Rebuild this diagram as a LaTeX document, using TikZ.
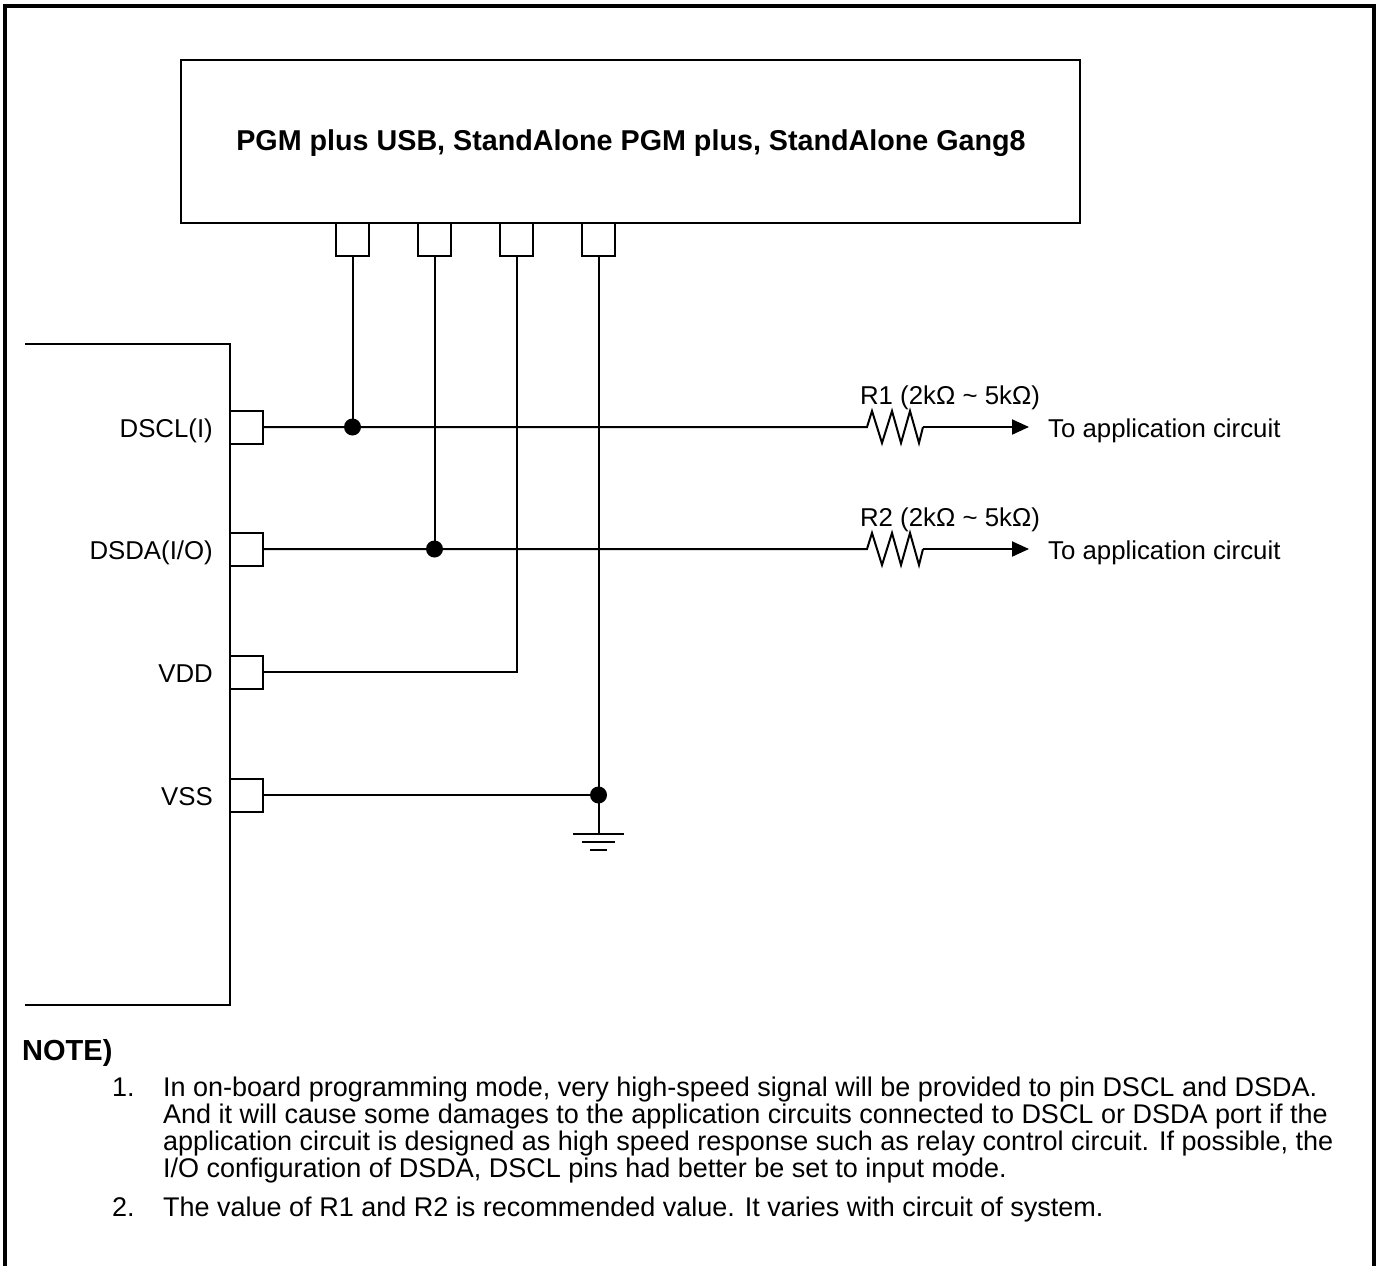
\documentclass[tikz,border=0pt]{standalone}
\usepackage{fontspec}
\setmainfont{Liberation Sans}
\usetikzlibrary{arrows.meta}
\begin{document}
\begin{tikzpicture}[x=1pt,y=-1pt,
  frame/.style={line width=3.5pt},
  box/.style={line width=2pt},
  wire/.style={line width=2pt},
  pinbox/.style={draw,line width=2pt,minimum size=33pt,inner sep=0pt,outer sep=0pt},
  dot/.style={circle,fill=black,inner sep=0pt,minimum size=17pt},
  lbl/.style={font=\fontsize{25.8}{27}\selectfont,inner sep=0pt},
  note/.style={font=\fontsize{27}{27}\selectfont,inner sep=0pt,anchor=base west},
  arr/.style={wire,-{Triangle[length=17pt,width=15pt]}}]
\useasboundingbox (0,0) rectangle (1382,1266);
% outer frame
\draw[frame] (5,1275) -- (5,6) -- (1374,6) -- (1374,1275);
% programmer box
\draw[box] (181,60) rectangle (1080,223);
\node[inner sep=0pt,font=\fontsize{28.7}{30}\selectfont\bfseries,anchor=base] (title) at (631,150) {PGM plus USB, StandAlone PGM plus, StandAlone Gang8};
% programmer pins
\node[pinbox] (p1) at (352.5,239.5) {};
\node[pinbox] (p2) at (434.5,239.5) {};
\node[pinbox] (p3) at (516.5,239.5) {};
\node[pinbox] (p4) at (598.5,239.5) {};
% chip
\draw[box] (25,344) -- (230,344) -- (230,1005) -- (25,1005);
\node[pinbox] (cscl) at (246.5,427) {};
\node[pinbox] (csda) at (246.5,549) {};
\node[pinbox] (cvdd) at (246.5,672) {};
\node[pinbox] (cvss) at (246.5,795) {};
\node[lbl,anchor=base east] (lscl) at (213,437) {DSCL(I)};
\node[lbl,anchor=base east] (lsda) at (213,559) {DSDA(I/O)};
\node[lbl,anchor=base east] (lvdd) at (213,682) {VDD};
\node[lbl,anchor=base east] (lvss) at (213,805) {VSS};
% junctions
\node[dot] (j1) at (p1.south |- cscl.east) {};
\node[dot] (j2) at (p2.south |- csda.east) {};
\coordinate (j3) at (p3.south |- cvdd.east);
\node[dot] (j4) at (p4.south |- cvss.east) {};
% vertical wires
\draw[wire] (p1.south) -- (j1.center);
\draw[wire] (p2.south) -- (j2.center);
\draw[wire] (p3.south) -- (j3) -- (cvdd.east);
\draw[wire] (p4.south) -- (j4.center) -- (cvss.east);
% resistor R1 line
\coordinate (r1a) at (867,427);
\coordinate (t1) at (1029,427);
\draw[wire] (cscl.east) -- (r1a) -- ++(5,-16) -- ++(10,32) -- ++(10,-32) -- ++(9,32) -- ++(9,-32) -- ++(9,32) -- ++(4,-16) coordinate (r1b);
\draw[arr] (r1b) -- (t1);
\node[lbl,anchor=base] (r1l) at (950,404) {R1 (2kΩ \textasciitilde{} 5kΩ)};
\node[lbl,anchor=base west] (to1) at (1048,437) {To application circuit};
% resistor R2 line
\coordinate (r2a) at (867,549);
\coordinate (t2) at (1029,549);
\draw[wire] (csda.east) -- (r2a) -- ++(5,-16) -- ++(10,32) -- ++(10,-32) -- ++(9,32) -- ++(9,-32) -- ++(9,32) -- ++(4,-16) coordinate (r2b);
\draw[arr] (r2b) -- (t2);
\node[lbl,anchor=base] (r2l) at (950,526) {R2 (2kΩ \textasciitilde{} 5kΩ)};
\node[lbl,anchor=base west] (to2) at (1048,559) {To application circuit};
% ground
\coordinate (g0) at (598.5,834);
\draw[wire] (j4.center) -- (g0);
\draw[wire] (573,834) -- (624,834);
\draw[wire] (582,842) -- (615,842);
\draw[wire] (590,850) -- (607,850);
% notes
\node[note,font=\fontsize{29}{30}\selectfont\bfseries] (nh) at (22,1060) {NOTE)};
\node[note] (n1) at (112,1096) {1.};
\node[note] (n1a) at (163,1096) {In on-board programming mode, very high-speed signal will be provided to pin DSCL and DSDA.};
\node[note] (n1b) at (163,1123) {And it will cause some damages to the application circuits connected to DSCL or DSDA port if the};
\node[note] (n1c) at (163,1150) {application circuit is designed as high speed response such as relay control circuit. If possible, the};
\node[note] (n1d) at (163,1177) {I/O configuration of DSDA, DSCL pins had better be set to input mode.};
\node[note] (n2) at (112,1216) {2.};
\node[note] (n2a) at (163,1216) {The value of R1 and R2 is recommended value. It varies with circuit of system.};
\end{tikzpicture}
\end{document}
